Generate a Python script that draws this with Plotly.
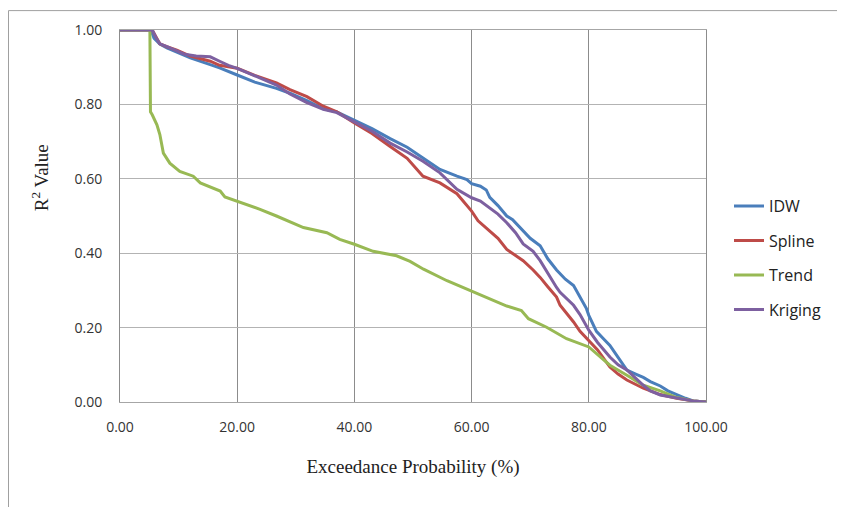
import plotly.graph_objects as go

idw_x = [0, 5.3, 5.8, 6.8, 8, 9.7, 12, 15.4, 17, 20, 23, 26.7, 29, 31.9, 34.7, 37, 40, 43, 46.1, 49, 51.7, 54.6, 57.5, 59.2, 60, 61.5, 62.5, 63.1, 64.5, 66, 67, 68.8, 70, 71.7, 73, 74.5, 75.1, 76, 77.4, 78.5, 79.6, 80, 81.3, 82.5, 83.6, 85, 86.5, 88, 89.3, 90.5, 92.2, 93.5, 95, 96.5, 97.8, 100]
idw_y = [1, 1, 0.978, 0.962, 0.952, 0.94, 0.925, 0.907, 0.898, 0.879, 0.86, 0.843, 0.83, 0.81, 0.788, 0.78, 0.757, 0.735, 0.708, 0.685, 0.656, 0.625, 0.607, 0.598, 0.587, 0.58, 0.57, 0.55, 0.528, 0.5, 0.49, 0.46, 0.44, 0.42, 0.385, 0.355, 0.344, 0.33, 0.313, 0.28, 0.251, 0.233, 0.19, 0.17, 0.152, 0.12, 0.086, 0.075, 0.066, 0.055, 0.043, 0.03, 0.019, 0.01, 0.003, 0]

spline_x = [0, 5.5, 6.2, 6.8, 8, 9.7, 12, 15.4, 17, 20, 23, 26.7, 29, 31.9, 34.7, 37, 40, 43, 46.1, 49, 51.7, 54.6, 57.5, 60, 61.1, 63.1, 64.5, 66, 68.8, 70.5, 71.7, 73, 74.5, 75.1, 77.4, 78.5, 80, 81.5, 83.6, 85, 86.5, 89.3, 92.2, 95, 97.8, 100]
spline_y = [1, 1, 0.98, 0.963, 0.955, 0.946, 0.93, 0.916, 0.905, 0.897, 0.878, 0.858, 0.84, 0.821, 0.795, 0.78, 0.75, 0.722, 0.687, 0.655, 0.607, 0.589, 0.56, 0.513, 0.487, 0.46, 0.44, 0.41, 0.38, 0.355, 0.335, 0.31, 0.282, 0.26, 0.215, 0.19, 0.166, 0.14, 0.094, 0.075, 0.059, 0.037, 0.02, 0.01, 0.003, 0]

trend_x = [0, 5.1, 5.2, 5.5, 6.3, 6.8, 7.4, 8.5, 10.2, 12.5, 13.7, 15.5, 17.1, 17.9, 19.9, 23.9, 26.7, 29, 31.3, 35.3, 37.5, 40, 43.2, 47.2, 49.5, 51.8, 55.8, 60, 63.1, 66, 68.5, 69.7, 72.8, 76.2, 80, 83.6, 86.5, 89.3, 92.2, 95, 97.8, 100]
trend_y = [1, 1, 0.78, 0.772, 0.745, 0.719, 0.669, 0.642, 0.62, 0.607, 0.589, 0.578, 0.567, 0.551, 0.54, 0.518, 0.5, 0.485, 0.469, 0.455, 0.437, 0.424, 0.405, 0.393, 0.378, 0.357, 0.326, 0.298, 0.277, 0.258, 0.246, 0.224, 0.201, 0.17, 0.148, 0.099, 0.072, 0.045, 0.03, 0.012, 0.003, 0]

kriging_x = [0, 5.5, 6.2, 6.8, 8, 9.7, 11, 13, 15.4, 17, 18.5, 20, 23, 26.7, 29, 31.9, 34.7, 37, 40, 43, 46.1, 49, 51.7, 54.6, 57.5, 60, 61.5, 63.1, 64.5, 66, 67.5, 68.8, 70.5, 71.7, 73, 74.5, 75.1, 77.4, 78.5, 80, 81.5, 83.6, 85, 86.5, 89.3, 90.5, 92.2, 95, 97.8, 100]
kriging_y = [1, 1, 0.978, 0.963, 0.955, 0.943, 0.935, 0.93, 0.928, 0.916, 0.905, 0.897, 0.877, 0.852, 0.828, 0.805, 0.787, 0.778, 0.753, 0.728, 0.696, 0.672, 0.647, 0.616, 0.572, 0.549, 0.54, 0.522, 0.505, 0.482, 0.455, 0.425, 0.405, 0.38, 0.345, 0.308, 0.295, 0.26, 0.235, 0.193, 0.16, 0.121, 0.1, 0.086, 0.045, 0.03, 0.019, 0.01, 0.003, 0]

series = [
    ("IDW", idw_x, idw_y, "#4A7EBB"),
    ("Spline", spline_x, spline_y, "#BE4B48"),
    ("Trend", trend_x, trend_y, "#98B954"),
    ("Kriging", kriging_x, kriging_y, "#7D60A0"),
]

fig = go.Figure()
for name, xs, ys, col in series:
    fig.add_trace(go.Scatter(x=xs, y=ys, name=name, mode="lines",
                             line=dict(color=col, width=3), legendgroup=name))

# page coordinates (the page body adds an 8px offset)
OFF = 8
W, H = 845, 507
L, R, T, B = 120, 706, 28, 402
pw, ph = R - L, B - T

def px(x):
    return (x - L) / pw

def py(y):
    return (B - y) / ph

fig.update_layout(
    width=W, height=H,
    margin=dict(l=L - OFF, r=W + OFF - R, t=T - OFF, b=H + OFF - B),
    paper_bgcolor="white", plot_bgcolor="white",
    font=dict(family="Open Sans", color="#333333"),
    showlegend=True,
    legend=dict(x=px(729), y=py(188), xanchor="left", yanchor="top",
                font=dict(family="Open Sans", size=16, color="#222222"),
                tracegroupgap=10.7, bgcolor="rgba(0,0,0,0)"),
    xaxis=dict(range=[0, 100], tickvals=[0, 20, 40, 60, 80, 100], tickformat=".2f",
               showgrid=True, gridcolor="#8c8c8c", gridwidth=1,
               showline=True, linecolor="#a6a6a6", mirror=True, zeroline=False,
               tickfont=dict(family="Open Sans", size=14, color="#333333"),
               ticks="", ticklabelstandoff=12,
               title=dict(text="Exceedance Probability (%)", standoff=24,
                          font=dict(family="Liberation Serif", size=19, color="#222222"))),
    yaxis=dict(range=[0, 1], tickvals=[0, 0.2, 0.4, 0.6, 0.8, 1.0], tickformat=".2f",
               showgrid=True, gridcolor="#b3b3b3", gridwidth=1,
               showline=True, linecolor="#8c8c8c", mirror=True, zeroline=False,
               tickfont=dict(family="Open Sans", size=14, color="#333333"),
               ticks="", ticklabelstandoff=14),
    shapes=[dict(type="rect", xref="paper", yref="paper",
                 x0=px(8.5), x1=px(844), y0=py(520), y1=py(8.5),
                 line=dict(color="#a0a0a0", width=1), layer="below")],
    annotations=[dict(text="R<sup>2</sup> Value", xref="paper", yref="paper",
                      x=px(40), y=py(177), textangle=-90, showarrow=False,
                      xanchor="center", yanchor="middle",
                      font=dict(family="Liberation Serif", size=19, color="#222222"))],
)

fig.write_html("out.html")
